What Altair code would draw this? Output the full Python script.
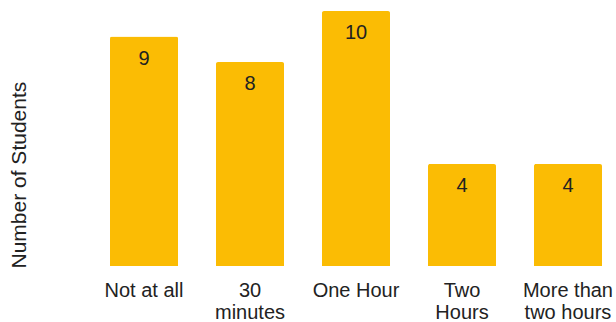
import altair as alt
import pandas as pd

categories = ["Not at all", "30\nminutes", "One Hour", "Two\nHours", "More than\ntwo hours"]
students = [9, 8, 10, 4, 4]

df = pd.DataFrame({"category": categories, "students": students})

FONT = "Liberation Sans"
BAR = "#FBBC04"

x = alt.X(
    "category:N",
    sort=categories,
    scale=alt.Scale(range=[19, 511], paddingInner=0.358, paddingOuter=0),
    axis=alt.Axis(
        title=None,
        labelAngle=0,
        labelExpr="split(datum.label, '\\n')",
        labelFont=FONT,
        labelFontSize=20,
        labelColor="#222222",
        labelBaseline="alphabetic",
        labelPadding=30,
        labelLineHeight=22,
        ticks=False,
        tickSize=0,
        domain=False,
        grid=False,
    ),
)
y = alt.Y(
    "students:Q",
    scale=alt.Scale(domain=[0, 10], nice=False),
    axis=alt.Axis(
        title="Number of Students",
        titleFont=FONT,
        titleFontSize=21,
        titleFontWeight="normal",
        titleColor="#222222",
        titleAngle=-90,
        titleAlign="left",
        titleBaseline="alphabetic",
        titleX=-66,
        titleY=257,
        labels=False,
        ticks=False,
        domain=False,
        grid=False,
    ),
)

bars = alt.Chart(df).mark_bar(color=BAR, cornerRadiusTopLeft=2, cornerRadiusTopRight=2).encode(x=x, y=y)
text = alt.Chart(df).mark_text(
    font=FONT, fontSize=20, color="#222222", baseline="alphabetic", dy=28, align="center"
).encode(x=alt.X("category:N", sort=categories), y="students:Q", text="students:Q")

chart = (
    alt.layer(bars, text)
    .properties(
        width=525,
        height=255,
        background="white",
        autosize=alt.AutoSizeParams(type="none"),
        padding={"left": 91, "top": 11, "right": 0, "bottom": 56},
    )
    .configure_view(strokeWidth=0, stroke="transparent")
)

chart.save("out.html", embed_options={"renderer": "svg", "actions": False})
